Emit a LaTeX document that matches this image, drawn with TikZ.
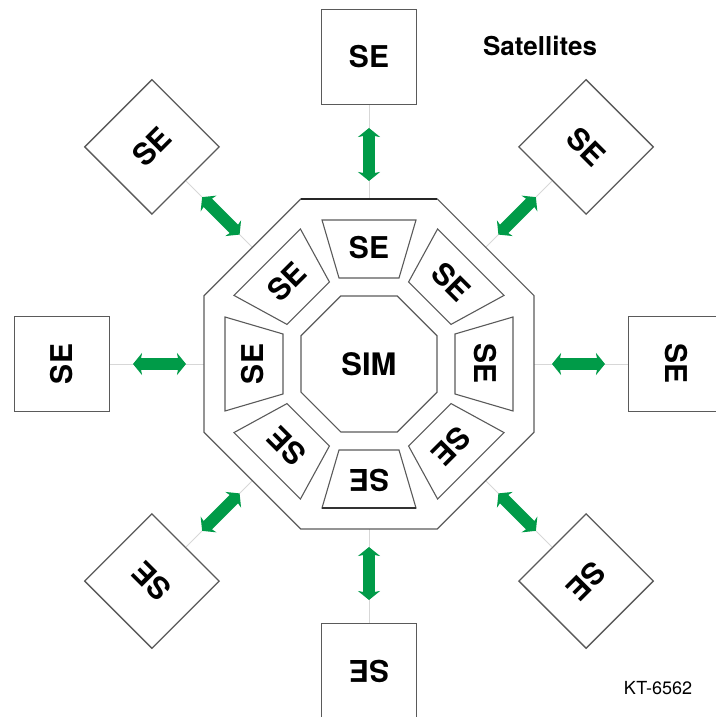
\documentclass[tikz,border=0pt]{standalone}
\usepackage{fontspec}
\setmainfont{TeX Gyre Heros}
\usetikzlibrary{arrows.meta,calc}
\definecolor{segreen}{RGB}{0,155,72}
\definecolor{edgegray}{RGB}{90,90,90}
\definecolor{guide}{RGB}{215,215,215}
\begin{document}
\begin{tikzpicture}[x=1pt,y=1pt,
  satbox/.style={draw=edgegray, line width=1.3pt, minimum size=95pt, inner sep=0pt, fill=white,
    font=\bfseries\fontsize{30}{32}\selectfont},
  selabel/.style={inner sep=0pt, font=\bfseries\fontsize{30}{32}\selectfont},
  trap/.style={draw=edgegray, line width=1.1pt},
  octo/.style={draw=edgegray, line width=1.2pt},
  guideline/.style={draw=guide, line width=0.8pt},
  greenarrow/.style={draw=segreen, line width=12pt,
    {Stealth[width=22pt,length=9pt,inset=2pt]}-{Stealth[width=22pt,length=9pt,inset=2pt]}}]
\useasboundingbox (0,0) rectangle (715,717);
\coordinate (C) at (369,353);
% guide lines and arrows
\foreach \a in {0,45,...,315}{
  \coordinate (g\a) at ($(C)+(\a:165)$);
  \coordinate (p\a) at ($(C)+(\a:183)$);
  \coordinate (q\a) at ($(C)+(\a:236)$);
  \node[satbox, rotate=\a-90] (s\a) at ($(C)+(\a:307)$) {SE};
  \draw[guideline] (s\a) -- (g\a);
  \draw[greenarrow] (p\a) -- (q\a);
}
% outer octagon
\draw[octo, shift={(C)}] (22.5:178.6) -- (67.5:178.6) -- (112.5:178.6) -- (157.5:178.6) -- (202.5:178.6) -- (247.5:178.6) -- (292.5:178.6) -- (337.5:178.6) -- cycle;
\draw[line width=2.4pt, black!85, shift={(C)}] (67.5:178.6) -- (112.5:178.6);
% inner SIM octagon
\draw[octo, shift={(C)}] (22.5:73.6) -- (67.5:73.6) -- (112.5:73.6) -- (157.5:73.6) -- (202.5:73.6) -- (247.5:73.6) -- (292.5:73.6) -- (337.5:73.6) -- cycle;
\node[selabel, font=\bfseries\fontsize{31}{33}\selectfont] (sim) at (C) {SIM};
% trapezoids
\foreach \a in {0,45,...,315}{
  \draw[trap, shift={(C)}, rotate=\a-90] (-30,86) -- (30,86) -- (47,144) -- (-47,144) -- cycle;
  \node[selabel, rotate=\a-90] (t\a) at ($(C)+(\a:116)$) {SE};
}
\draw[line width=2.6pt, black!80, shift={(C)}] (-47,-144) -- (47,-144);
% labels
\node[inner sep=0pt, font=\bfseries\fontsize{26}{28}\selectfont] (sat) at (540,671) {Satellites};
\node[inner sep=0pt, font=\fontsize{18}{20}\selectfont] (kt) at (658,29) {KT-6562};
\end{tikzpicture}
\end{document}
